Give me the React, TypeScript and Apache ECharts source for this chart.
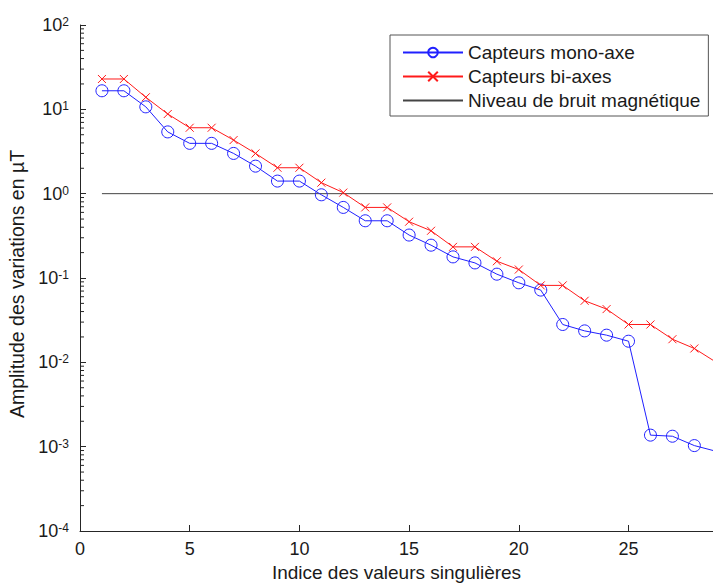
import React, { useEffect, useRef } from "react";
import * as echarts from "echarts";

const indices = [1,2,3,4,5,6,7,8,9,10,11,12,13,14,15,16,17,18,19,20,21,22,23,24,25,26,27,28,29];
const monoAxe = [16.6,16.6,10.7,5.4,3.95,3.95,3.0,2.12,1.41,1.41,0.97,0.687,0.477,0.477,0.323,0.245,0.178,0.151,0.111,0.0877,0.0719,0.0281,0.0236,0.021,0.0178,0.00137,0.00133,0.00103,0.00088];
const biAxes = [22.9,22.9,13.9,8.8,6.05,6.05,4.32,3.0,2.03,2.03,1.35,1.03,0.687,0.687,0.465,0.363,0.234,0.234,0.158,0.126,0.0817,0.0817,0.0537,0.0428,0.0281,0.0281,0.0188,0.0146,0.01];
const noiseLevel = [[1, 1], [29, 1]];
const xTicks = [0, 5, 10, 15, 20, 25];
const yTicks = [1e-4, 1e-3, 1e-2, 1e-1, 1, 10, 100];
const seriesNames = ["Capteurs mono-axe", "Capteurs bi-axes", "Niveau de bruit magnétique"];

const minorTicks: number[][] = [];
for (let e = -4; e < 2; e++) {
  for (let m = 2; m <= 9; m++) minorTicks.push([0, m * Math.pow(10, e)]);
}

const AXIS = "#262626";
const FONT = "'Liberation Sans', Arial, sans-serif";

export default function App() {
  const ref = useRef<HTMLDivElement>(null);
  useEffect(() => {
    if (!ref.current) return;
    const chart = echarts.init(ref.current, undefined, { renderer: "svg" });
    chart.setOption({
      animation: false,
      backgroundColor: "#fff",
      textStyle: { fontFamily: FONT },
      grid: { left: 80, top: 25, right: 0, bottom: 52, containLabel: false, outerBoundsMode: "none" },
      legend: {
        data: seriesNames,
        orient: "vertical",
        left: 390,
        top: 35,
        itemWidth: 60,
        itemHeight: 12,
        itemGap: 5,
        padding: [8, 8, 6, 12],
        borderColor: "#555",
        borderWidth: 1,
        borderRadius: 0,
        backgroundColor: "#fff",
        textStyle: { fontSize: 19, color: "#1a1a1a", fontFamily: FONT },
      },
      xAxis: {
        type: "value",
        min: 0,
        max: 28.85,
        name: "Indice des valeurs singulières",
        nameLocation: "middle",
        nameGap: 32,
        nameTextStyle: { fontSize: 19, color: "#1a1a1a", fontFamily: FONT },
        axisLine: { show: true, lineStyle: { color: AXIS, width: 1 } },
        axisTick: { show: true, inside: true, length: 6, lineStyle: { color: AXIS }, customValues: xTicks },
        axisLabel: { fontSize: 18, color: "#1a1a1a", margin: 9, fontFamily: FONT, customValues: xTicks },
        splitLine: { show: false },
      },
      yAxis: {
        type: "log",
        logBase: 10,
        min: 1e-4,
        max: 100,
        name: "Amplitude des variations en µT",
        nameLocation: "middle",
        nameGap: 44,
        nameTextStyle: { fontSize: 19.5, color: "#1a1a1a", fontFamily: FONT, padding: [0, 12, 0, 0] },
        axisLine: { show: true, lineStyle: { color: AXIS, width: 1 } },
        axisTick: { show: true, inside: true, length: 6, lineStyle: { color: AXIS }, customValues: yTicks },
        axisLabel: {
          margin: 11,
          customValues: yTicks,
          formatter: (v: number) => {
            const e = Math.round(Math.log10(v));
            return `{b|10}{s|${e}}`;
          },
          rich: {
            b: { fontSize: 18, lineHeight: 18, color: "#1a1a1a", fontFamily: FONT, verticalAlign: "bottom" },
            s: { fontSize: 12, lineHeight: 12, color: "#1a1a1a", fontFamily: FONT, verticalAlign: "top" },
          },
        },
        splitLine: { show: false },
      },
      series: [
        {
          name: seriesNames[0],
          type: "line",
          data: indices.map((x, i) => [x, monoAxe[i]]),
          symbol: "circle",
          symbolSize: 12,
          showAllSymbol: true,
          itemStyle: { color: "rgba(0,0,0,0)", borderColor: "#2020ff", borderWidth: 1 },
          lineStyle: { color: "#2020ff", width: 1 },
          z: 3,
        },
        {
          name: seriesNames[1],
          type: "line",
          data: indices.map((x, i) => [x, biAxes[i]]),
          symbol: "path://M0 0L10 10M10 0L0 10",
          symbolSize: 8,
          showAllSymbol: true,
          itemStyle: { color: "rgba(0,0,0,0)", borderColor: "#ff1a1a", borderWidth: 1 },
          lineStyle: { color: "#ff1a1a", width: 1 },
          z: 4,
        },
        {
          name: seriesNames[2],
          type: "line",
          data: noiseLevel,
          symbol: "none",
          lineStyle: { color: "#444", width: 1 },
          itemStyle: { color: "rgba(0,0,0,0)", borderWidth: 0 },
          z: 2,
        },
        {
          name: "minorTicks",
          type: "custom",
          data: minorTicks,
          clip: false,
          silent: true,
          renderItem: (_p: any, api: any) => {
            const pt = api.coord([0, api.value(1)]);
            return {
              type: "line",
              shape: { x1: pt[0], y1: pt[1], x2: pt[0] + 4, y2: pt[1] },
              style: { stroke: AXIS, lineWidth: 1 },
            };
          },
          z: 1,
        },
      ],
    });
    return () => chart.dispose();
  }, []);
  return (
    <div
      ref={ref}
      style={{ position: "fixed", left: 0, top: 0, width: 713, height: 583 }}
    />
  );
}
